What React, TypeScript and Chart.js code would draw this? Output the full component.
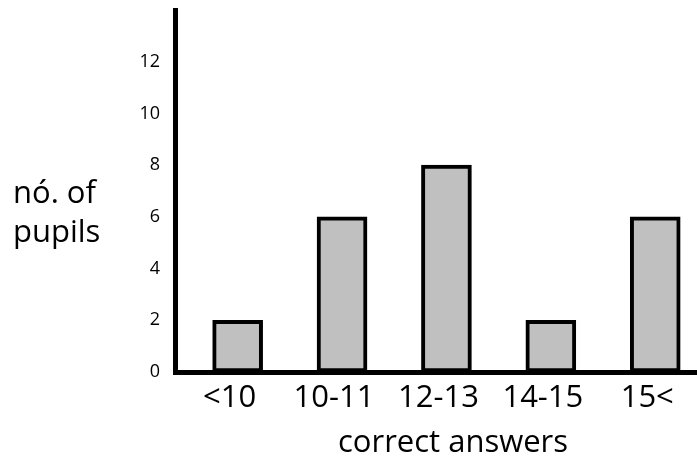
import { useEffect, useRef } from 'react';
import { Chart, registerables } from 'chart.js';

Chart.register(...registerables);

const categories: string[] = ['<10', '10-11', '12-13', '14-15', '15<'];
const pupils: number[] = [2, 6, 8, 2, 6];
const yMax = 14;
const yStep = 2;
const yLabelMax = 12;
const yTitleLines: string[] = ['nó. of', 'pupils'];
const xTitle = 'correct answers';

const FAMILY = '"Open Sans", sans-serif';

export default function App() {
  const ref = useRef<HTMLCanvasElement>(null);

  useEffect(() => {
    if (!ref.current) return;
    const titles = {
      id: 'axisTitles',
      afterDraw(chart: any) {
        const ctx = chart.ctx;
        ctx.save();
        ctx.fillStyle = '#000';
        ctx.font = `31px ${FAMILY}`;
        ctx.textAlign = 'left';
        ctx.textBaseline = 'alphabetic';
        ctx.fillText(yTitleLines[0], 13, 203);
        ctx.fillText(yTitleLines[1], 13, 242);
        ctx.textAlign = 'center';
        ctx.fillText(xTitle, 453, 452);
        ctx.restore();
      },
    };

    const chart = new Chart(ref.current, {
      type: 'bar',
      data: {
        datasets: [
          {
            data: categories.map((_, i) => ({ x: i, y: pupils[i] })),
            backgroundColor: '#c0c0c0',
            borderColor: '#000',
            borderWidth: 4,
            borderSkipped: false,
            barThickness: 50,
          } as any,
        ],
      },
      options: {
        animation: false,
        responsive: true,
        maintainAspectRatio: false,
        layout: { padding: { top: 10, right: 0, left: 0, bottom: 0 } },
        plugins: { legend: { display: false }, tooltip: { enabled: false } },
        scales: {
          x: {
            type: 'linear',
            offset: false,
            min: -0.6,
            max: 4.4,
            grid: { display: false },
            border: { display: true, color: '#000', width: 5 },
            afterBuildTicks: (s: any) => {
              s.ticks = categories.map((_, i) => ({ value: i }));
            },
            afterFit: (s: any) => {
              s.height = 85;
              s.paddingLeft = 0;
              s.paddingRight = 0;
            },
            ticks: {
              callback: (v: any) => categories[v as number] ?? '',
              font: { family: FAMILY, size: 31 },
              color: '#000',
              padding: 0,
              labelOffset: -8,
              maxRotation: 0,
              autoSkip: false,
            },
          } as any,
          y: {
            min: 0,
            max: yMax,
            grid: { display: false },
            border: { display: true, color: '#000', width: 5 },
            afterFit: (s: any) => {
              s.width = 175;
              s.paddingTop = 0;
              s.paddingBottom = 0;
            },
            ticks: {
              stepSize: yStep,
              callback: (v: any) => ((v as number) > yLabelMax ? '' : String(v)),
              font: { family: FAMILY, size: 18 },
              color: '#000',
              padding: 7,
            },
          } as any,
        },
      },
      plugins: [titles],
    });
    return () => chart.destroy();
  }, []);

  return (
    <div style={{ position: 'fixed', left: 0, top: 0, width: 697, height: 457, background: '#fff' }}>
      <canvas ref={ref} />
    </div>
  );
}
